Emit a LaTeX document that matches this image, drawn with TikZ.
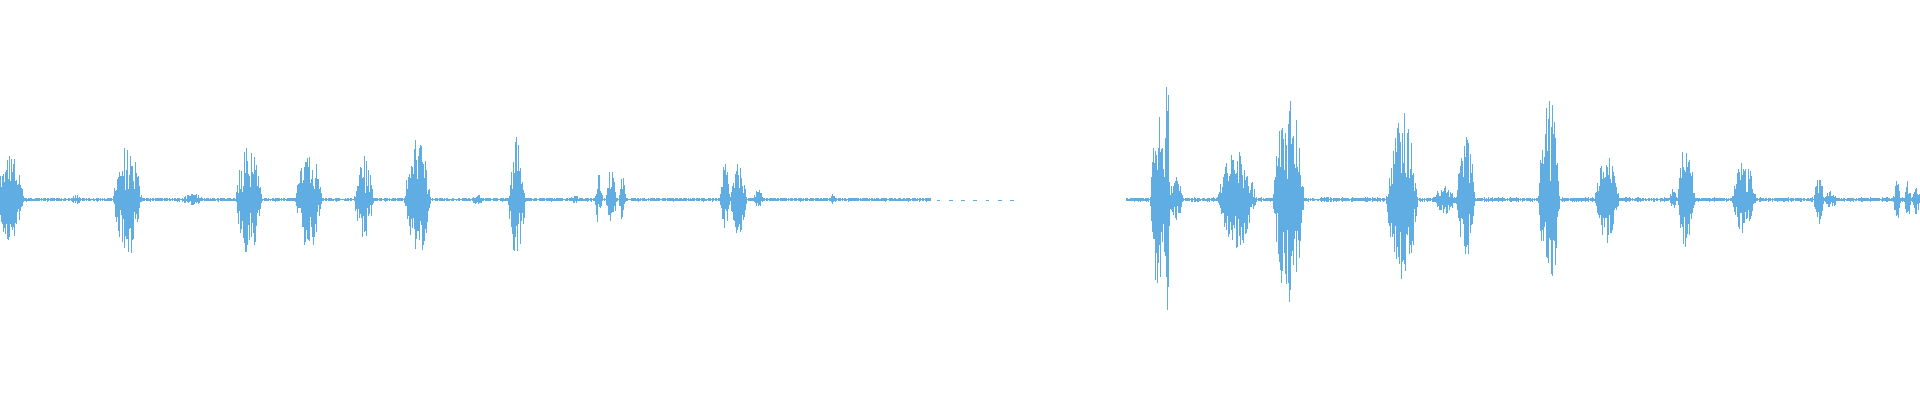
\documentclass[tikz,border=0pt]{standalone}
\definecolor{wave}{RGB}{96,173,228}
\newcommand\burst[3]{%
  \pgfmathtruncatemacro\nn{2*#2/0.4}%
  \foreach \k in {0,...,\nn}{%
    \pgfmathsetmacro\xx{#1-#2+\k*0.4}%
    \pgfmathsetmacro\ee{max(0,1-((\xx-#1)/#2)^2)}%
    \pgfmathsetmacro\aa{#3*\ee*(0.15+0.85*rnd^1.3)}%
    \pgfmathsetmacro\bb{#3*\ee*(0.15+0.85*rnd^1.3)}%
    \draw (\xx,164-\aa) -- (\xx,164+\bb);
  }}
\newcommand\noiseseg[3]{%
  \pgfmathtruncatemacro\nn{(#2-#1)/0.7}%
  \foreach \k in {0,...,\nn}{%
    \pgfmathsetmacro\xx{#1+\k*0.7}%
    \pgfmathsetmacro\aa{#3*(0.3+0.7*rnd)}%
    \draw (\xx,164-\aa) -- (\xx,164+\aa);
  }}
\begin{document}
\begin{tikzpicture}[x=1.2245pt,y=1.2245pt,line width=0.35pt,draw=wave]
\pgfmathsetseed{7}
\useasboundingbox (0,0) rectangle (1568,327);
\noiseseg{0}{760}{1.6}
\foreach \xx in {765,775,...,825}{\draw[wave] (\xx,163.5) -- (\xx+3,163.5);}
\noiseseg{920}{1568}{1.8}
\burst{8}{12}{36}
\burst{104}{12}{46}
\burst{157}{9}{5}
\burst{62}{5}{4}
\burst{203}{11}{46}
\burst{252}{11}{42}
\burst{297}{8}{36}
\burst{341}{11}{50}
\burst{422}{7}{52}
\burst{390}{6}{4}
\burst{470}{6}{3}
\burst{489}{3}{26}
\burst{499}{4}{27}
\burst{508}{3}{20}
\burst{592}{4}{32}
\burst{603}{7}{30}
\burst{619}{4}{8}
\burst{680}{2}{6}
\burst{945}{6}{82}
\burst{953}{3}{98}
\burst{960}{6}{20}
\burst{1010}{16}{42}
\burst{1052}{13}{86}
\burst{1145}{13}{72}
\burst{1180}{10}{12}
\burst{1197}{8}{52}
\burst{1265}{9}{82}
\burst{1312}{10}{36}
\burst{1366}{3}{10}
\burst{1377}{7}{48}
\burst{1424}{10}{32}
\burst{1485}{4}{22}
\burst{1495}{5}{8}
\burst{1549}{3}{18}
\burst{1558}{3}{16}
\burst{1565}{3}{12}
\end{tikzpicture}
\end{document}
